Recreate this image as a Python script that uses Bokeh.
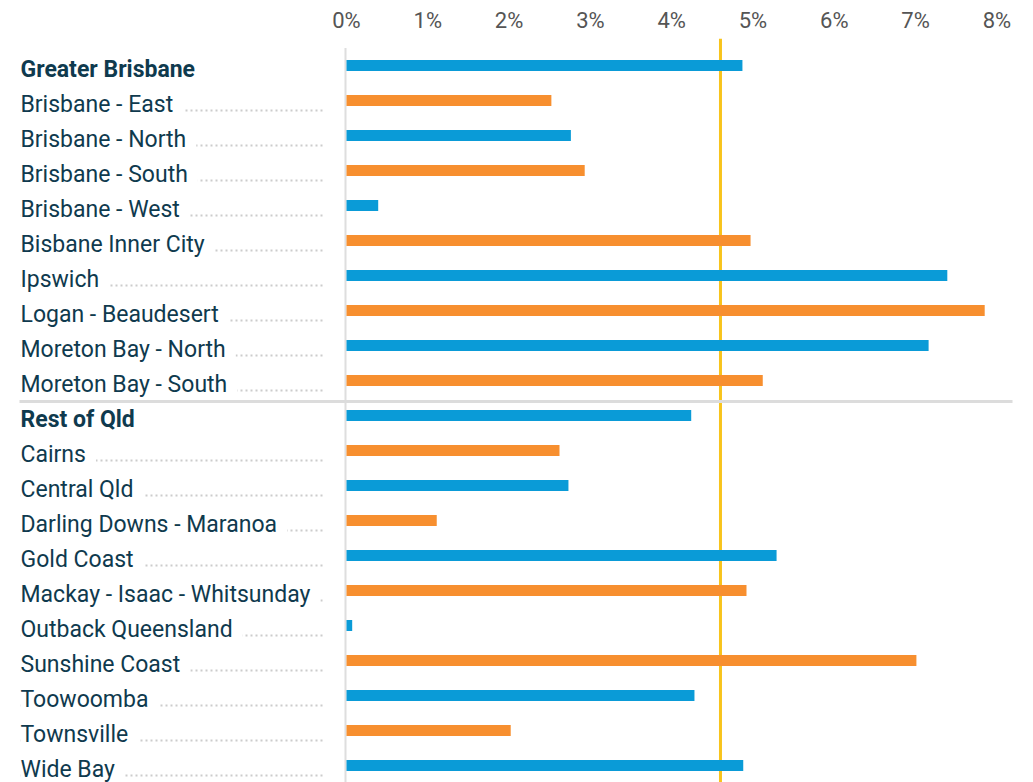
from bokeh.plotting import figure
from bokeh.models import Range1d, FixedTicker, Span, ColumnDataSource
from bokeh.core.properties import value
from bokeh.embed import file_html
from bokeh.resources import INLINE

regions = [
    "Greater Brisbane", "Brisbane - East", "Brisbane - North", "Brisbane - South",
    "Brisbane - West", "Bisbane Inner City", "Ipswich", "Logan - Beaudesert",
    "Moreton Bay - North", "Moreton Bay - South", "Rest of Qld", "Cairns",
    "Central Qld", "Darling Downs - Maranoa", "Gold Coast",
    "Mackay - Isaac - Whitsunday", "Outback Queensland", "Sunshine Coast",
    "Toowoomba", "Townsville", "Wide Bay",
]
growth = [
    4.87, 2.52, 2.76, 2.93, 0.39, 4.97, 7.39, 7.85, 7.16, 5.12,
    4.24, 2.62, 2.73, 1.11, 5.29, 4.92, 0.07, 7.01, 4.28, 2.02, 4.88,
]
is_group = [True] + [False] * 9 + [True] + [False] * 10
qld_average = 4.6
tick_values = [0, 1, 2, 3, 4, 5, 6, 7, 8]
tick_labels = ["0%", "1%", "2%", "3%", "4%", "5%", "6%", "7%", "8%"]

BLUE = "#0a9bd7"
ORANGE = "#f78f2f"
TEXT = "#0f3a4e"

W, H = 1033, 782
PX = 81.3          # pixels per 1%
ZERO = 346         # canvas x of 0%
ROW = 35.0         # pixels per row
ROW0 = 65.0        # canvas y of first row centre
FRAME_TOP = 38.0   # canvas y of frame top

x_start = -ZERO / PX
x_end = (W - ZERO) / PX
y_top = (FRAME_TOP - ROW0) / ROW
y_bottom = (H - ROW0) / ROW

rows = list(range(len(regions)))
colors = [BLUE if i % 2 == 0 else ORANGE for i in rows]
src = ColumnDataSource(dict(y=rows, v=growth, c=colors))

p = figure(width=W, height=H, output_backend="svg", toolbar_location=None,
           x_axis_location="above", y_axis_location=None,
           x_range=Range1d(x_start, x_end), y_range=Range1d(y_bottom, y_top),
           min_border_left=0, min_border_right=0, min_border_bottom=0,
           min_border_top=int(FRAME_TOP), outline_line_color=None)
p.xgrid.visible = False
p.ygrid.visible = False

ax = p.xaxis[0]
ax.ticker = FixedTicker(ticks=tick_values)
ax.major_label_overrides = {v: l for v, l in zip(tick_values, tick_labels)}
ax.axis_line_color = None
ax.major_tick_line_color = None
ax.minor_tick_line_color = None
ax.major_tick_out = 0
ax.major_tick_in = 0
ax.major_label_standoff = 6
ax.major_label_text_font = "Roboto"
ax.major_label_text_font_size = "22px"
ax.major_label_text_color = "#555555"

# average line
p.add_layout(Span(location=qld_average, dimension="height", line_color="#f8c41c",
                  line_width=3, level="underlay"))

# zero axis line
p.segment(x0=0 - 1 / PX, y0=-0.5, x1=0 - 1 / PX, y1=y_bottom, line_color="#dedede", line_width=2)

# separator between groups
sep_y = rows[is_group.index(True, 1)] - 0.4
p.segment(x0=(19 - ZERO) / PX, y0=sep_y, x1=(1012 - ZERO) / PX, y1=sep_y,
          line_color="#dcdcdc", line_width=3)

# bars
p.hbar(y="y", left=0, right="v", height=11 / ROW, fill_color="c", line_color=None, source=src)

label_x = (20 - ZERO) / PX
lead_end = (323 - ZERO) / PX
sub_y = [i for i in rows if not is_group[i]]
grp_y = [i for i in rows if is_group[i]]

p.segment(x0=[label_x] * len(sub_y), y0=[y + 10 / ROW for y in sub_y],
          x1=[lead_end] * len(sub_y), y1=[y + 10 / ROW for y in sub_y],
          line_color="#cccccc", line_width=2, line_dash="2 3")

TXT_OFF = 4 / ROW
p.text(x=[label_x] * len(sub_y), y=[y + TXT_OFF for y in sub_y],
       text=[regions[i] for i in sub_y], text_baseline="alphabetic", text_align="left",
       text_font=value("Roboto"), text_font_size="23px", text_color=TEXT,
       background_fill_color="white", padding=(0, 10, 0, 0))
p.text(x=[label_x] * len(grp_y), y=[y + TXT_OFF for y in grp_y],
       text=[regions[i] for i in grp_y], text_baseline="alphabetic", text_align="left",
       text_font=value("Roboto"), text_font_size="23px", text_font_style="bold",
       text_color=TEXT)

open("out.html", "w").write(file_html(p, INLINE))
